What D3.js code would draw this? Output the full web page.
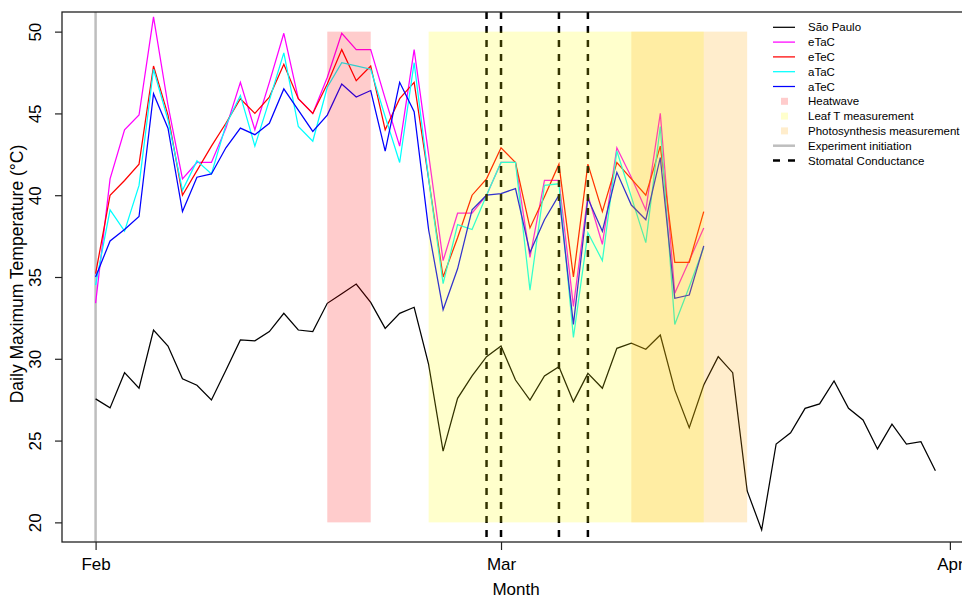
<!DOCTYPE html>
<html>
<head>
<meta charset="utf-8">
<script src="https://cdn.jsdelivr.net/npm/d3@7"></script>
<style>
  html, body { margin: 0; padding: 0; background: #fff; }
  svg { display: block; font-family: "Liberation Sans", Arial, Helvetica, sans-serif; }
</style>
</head>
<body>
<svg id="chart" width="962" height="598"></svg>
<script>
// Daily maximum temperature, one value per day from 1 February
const startDay = "2023-02-01";

const saoPaulo = [27.55, 27.0, 29.15, 28.2, 31.76, 30.78, 28.78, 28.38, 27.48, 29.3,
  31.15, 31.1, 31.66, 32.78, 31.76, 31.66, 33.39, 33.98, 34.57, 33.45,
  31.86, 32.78, 33.15, 29.66, 24.36, 27.58, 28.95, 30.13, 30.78, 28.7,
  27.48, 28.95, 29.52, 27.38, 29.11, 28.2, 30.64, 30.95, 30.58, 31.45,
  28.1, 25.79, 28.4, 30.13, 29.15, 21.92, 19.54, 24.79, 25.48, 26.97,
  27.24, 28.64, 26.97, 26.26, 24.49, 26.0, 24.79, 24.93, 23.16];

const eTaC = [33.4, 41.0, 44.0, 44.9, 50.9, 45.5, 41.0, 42.0, 42.0, 44.1,
  46.9, 44.0, 46.9, 49.9, 45.9, 45.0, 47.2, 49.9, 48.9, 48.9,
  45.9, 43.0, 48.9, 42.5, 36.0, 38.9, 38.9, 40.0, 42.0, 42.0,
  36.2, 40.9, 40.9, 33.2, 40.0, 37.0, 42.9, 41.1, 39.1, 45.0,
  34.0, 36.0, 38.0];

const eTeC = [35.2, 40.0, 40.9, 41.9, 47.9, 44.9, 40.0, 41.5, 43.0, 44.4,
  45.9, 45.0, 46.0, 48.0, 45.9, 45.0, 46.8, 48.9, 47.0, 47.9,
  44.0, 45.9, 46.9, 41.0, 35.0, 37.4, 40.0, 41.0, 42.9, 42.0,
  38.0, 39.9, 41.9, 35.0, 41.9, 39.0, 42.0, 41.0, 40.0, 43.0,
  35.9, 35.9, 39.0];

const aTaC = [34.5, 39.1, 37.8, 40.6, 47.7, 44.6, 40.3, 42.1, 41.3, 44.3,
  46.1, 43.0, 45.8, 48.7, 44.2, 43.3, 46.6, 48.1, 47.9, 47.7,
  44.8, 42.0, 48.1, 41.0, 34.6, 38.2, 37.9, 40.0, 42.0, 42.0,
  34.2, 40.6, 40.7, 31.3, 37.7, 36.0, 42.7, 39.9, 37.1, 44.2,
  32.1, 34.4, 36.8];

const aTeC = [35.0, 37.2, 37.9, 38.7, 46.2, 44.1, 39.0, 41.1, 41.3, 42.9,
  44.1, 43.7, 44.4, 46.5, 45.2, 43.9, 44.9, 46.8, 46.0, 46.4,
  42.7, 46.9, 45.1, 37.9, 33.0, 35.5, 39.1, 40.0, 40.1, 40.4,
  36.5, 38.5, 40.0, 32.1, 39.8, 37.8, 41.4, 39.4, 38.5, 42.3,
  33.7, 33.9, 36.9];

// Shaded periods [first day, last day] and their bounds in °C
const heatwave = ["2023-02-17", "2023-02-20"];
const leafTPeriod = ["2023-02-24", "2023-03-15"];
const photoPeriod = ["2023-03-10", "2023-03-18"];
const bandRange = [20, 50];

const stomatalDays = ["2023-02-28", "2023-03-01", "2023-03-05", "2023-03-07"];
const initiationDay = "2023-02-01";

const monthTicks = ["2023-02-01", "2023-03-01", "2023-04-01"];
const monthLabels = ["Feb", "Mar", "Apr"];
const yTicks = [20, 25, 30, 35, 40, 45, 50];
const yLimits = [20, 50];

const seriesNames = ["São Paulo", "eTaC", "eTeC", "aTaC", "aTeC"];
const seriesColors = ["#000000", "#ff00ff", "#ff0000", "#00ffff", "#0000ff"];

// ---- layout ----
const svg = d3.select("#chart");
const plot = { left: 62, right: 969, top: 12, bottom: 542 };
const parse = d3.utcParse("%Y-%m-%d");
const t0 = parse(startDay);
const dayOf = i => d3.utcDay.offset(t0, i);

// x extent padded by 4% either side of the data span
const xFirst = t0, xLast = dayOf(saoPaulo.length - 1);
const span = xLast - xFirst;
const x = d3.scaleUtc()
  .domain([new Date(+xFirst - 0.04 * span), new Date(+xLast + 0.04 * span)])
  .range([plot.left, plot.right]);

const ySpan = yLimits[1] - yLimits[0];
const y = d3.scaleLinear()
  .domain([yLimits[0] - 0.04 * ySpan, yLimits[1] + 0.04 * ySpan])
  .range([plot.bottom, plot.top]);

svg.append("defs").append("clipPath").attr("id", "plotclip")
  .append("rect")
  .attr("x", plot.left).attr("y", plot.top)
  .attr("width", plot.right - plot.left).attr("height", plot.bottom - plot.top);

const g = svg.append("g").attr("clip-path", "url(#plotclip)");

const line = d3.line().x((d, i) => x(dayOf(i))).y(d => y(d));

// experiment initiation
g.append("line")
  .attr("x1", x(parse(initiationDay))).attr("x2", x(parse(initiationDay)))
  .attr("y1", plot.top).attr("y2", plot.bottom)
  .attr("stroke", "#bebebe").attr("stroke-width", 2.5);

// temperature series
const allSeries = [saoPaulo, eTaC, eTeC, aTaC, aTeC];
allSeries.forEach((s, k) => {
  g.append("path").datum(s)
    .attr("d", line)
    .attr("fill", "none")
    .attr("stroke", seriesColors[k])
    .attr("stroke-width", 1.25)
    .attr("stroke-linejoin", "miter");
});

// stomatal conductance days
stomatalDays.forEach(dstr => {
  const xv = x(parse(dstr));
  g.append("line")
    .attr("x1", xv).attr("x2", xv)
    .attr("y1", plot.top).attr("y2", plot.bottom)
    .attr("stroke", "#000").attr("stroke-width", 2.5)
    .attr("stroke-dasharray", "7,7");
});

// translucent shaded periods over the lines
function band(period, color) {
  g.append("rect")
    .attr("x", x(parse(period[0])))
    .attr("width", x(parse(period[1])) - x(parse(period[0])))
    .attr("y", y(bandRange[1]))
    .attr("height", y(bandRange[0]) - y(bandRange[1]))
    .attr("fill", color).attr("fill-opacity", 0.2);
}
band(heatwave, "#ff0000");
band(leafTPeriod, "#ffff00");
band(photoPeriod, "#ffa500");

// ---- axes ----
const axisG = svg.append("g");
// box
axisG.append("rect")
  .attr("x", plot.left).attr("y", plot.top)
  .attr("width", plot.right - plot.left).attr("height", plot.bottom - plot.top)
  .attr("fill", "none").attr("stroke", "#222").attr("stroke-width", 1.3);

const yAxis = d3.axisLeft(y).tickValues(yTicks).tickSize(7).tickFormat(d3.format("d"));
const yg = axisG.append("g").attr("transform", `translate(${plot.left},0)`).call(yAxis);
yg.select(".domain").remove();
yg.selectAll(".tick line").attr("stroke", "#222").attr("stroke-width", 1.2);
yg.selectAll(".tick text")
  .attr("x", null).attr("dy", null)
  .attr("transform", "translate(-21,0) rotate(-90)")
  .attr("text-anchor", "middle")
  .attr("font-size", 17).attr("font-family", null).attr("fill", "#000");

const xAxis = d3.axisBottom(x).tickValues(monthTicks.map(parse)).tickSize(8)
  .tickFormat((d, i) => monthLabels[i]);
const xg = axisG.append("g").attr("transform", `translate(0,${plot.bottom})`).call(xAxis);
xg.select(".domain").remove();
xg.selectAll(".tick line").attr("stroke", "#222").attr("stroke-width", 1.2);
xg.selectAll(".tick text")
  .attr("y", 28).attr("dy", null)
  .attr("font-size", 17).attr("font-family", null).attr("fill", "#000");

// axis titles
svg.append("text")
  .attr("x", (plot.left + 940) / 2 + 15).attr("y", 595)
  .attr("text-anchor", "middle").attr("font-size", 17)
  .text("Month");
svg.append("text")
  .attr("transform", `translate(23,${(plot.top + plot.bottom) / 2 - 3}) rotate(-90)`)
  .attr("text-anchor", "middle").attr("font-size", 17.5)
  .text("Daily Maximum Temperature (°C)");

// ---- legend ----
const legendItems = [
  { label: seriesNames[0], type: "line", color: seriesColors[0] },
  { label: seriesNames[1], type: "line", color: seriesColors[1] },
  { label: seriesNames[2], type: "line", color: seriesColors[2] },
  { label: seriesNames[3], type: "line", color: seriesColors[3] },
  { label: seriesNames[4], type: "line", color: seriesColors[4] },
  { label: "Heatwave", type: "box", color: "#ffcccc" },
  { label: "Leaf T measurement", type: "box", color: "#ffffcc" },
  { label: "Photosynthesis measurement", type: "box", color: "#ffedcc" },
  { label: "Experiment initiation", type: "gray" },
  { label: "Stomatal Conductance", type: "dash" }
];
const lg = svg.append("g").attr("transform", "translate(773,27.3)");
legendItems.forEach((it, i) => {
  const row = lg.append("g").attr("transform", `translate(0,${i * 14.8})`);
  if (it.type === "line") {
    row.append("line").attr("x1", 0).attr("x2", 22).attr("y1", 0).attr("y2", 0)
      .attr("stroke", it.color).attr("stroke-width", 1.25);
  } else if (it.type === "box") {
    row.append("rect").attr("x", 8).attr("y", -3.5).attr("width", 7).attr("height", 7)
      .attr("fill", it.color);
  } else if (it.type === "gray") {
    row.append("line").attr("x1", 0).attr("x2", 22).attr("y1", 0).attr("y2", 0)
      .attr("stroke", "#bebebe").attr("stroke-width", 2.5);
  } else {
    row.append("line").attr("x1", 0).attr("x2", 22).attr("y1", 0).attr("y2", 0)
      .attr("stroke", "#000").attr("stroke-width", 2.5).attr("stroke-dasharray", "7,8");
  }
  row.append("text").attr("x", 35).attr("y", 4).attr("font-size", 11.5)
    .text(it.label);
});
</script>
</body>
</html>
